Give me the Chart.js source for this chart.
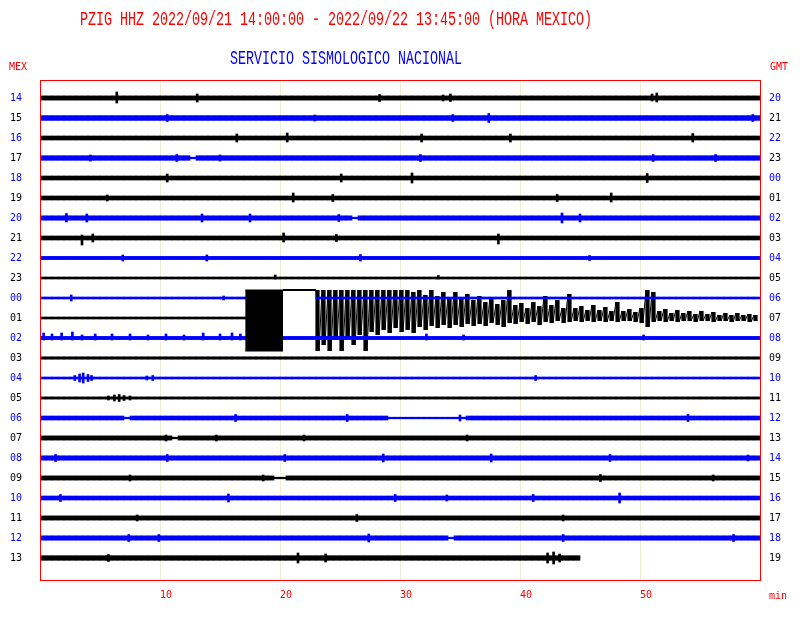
<!DOCTYPE html>
<html>
<head>
<meta charset="utf-8">
<script src="https://cdn.jsdelivr.net/npm/chart.js@4.4.0/dist/chart.umd.min.js"></script>
<style>
  html, body { margin: 0; background: #fff; }
</style>
</head>
<body>
<canvas id="heli" width="800" height="620"></canvas>
<script>
const titleText = 'PZIG HHZ 2022/09/21 14:00:00 - 2022/09/22 13:45:00 (HORA MEXICO)';
const agencyText = 'SERVICIO SISMOLOGICO NACIONAL';

// one trace per hour, local time on the left, GMT on the right
const mexHours = ['14','15','16','17','18','19','20','21','22','23','00','01',
                  '02','03','04','05','06','07','08','09','10','11','12','13'];
const gmtHours = ['20','21','22','23','00','01','02','03','04','05','06','07',
                  '08','09','10','11','12','13','14','15','16','17','18','19'];
const minuteTicks = [10, 20, 30, 40, 50];

// background noise half-amplitude per trace (counts)
const noiseLevel = [2.1, 2.4, 2.0, 2.3, 2.0, 2.0, 2.2, 2.0, 1.6, 1.0, 1.0, 1.0,
                    1.6, 1.2, 1.0, 1.1, 2.0, 2.1, 2.2, 2.1, 2.0, 2.1, 2.2, 2.3];
const quietLevel = 0.8;

// [trace, from min, to min] where the trace is only a flat line
const quietSpans = [[3, 12.5, 13], [6, 26, 26.5], [16, 7, 7.5], [16, 29, 35.5],
                    [17, 11, 11.5], [19, 19.5, 20.5], [22, 34, 34.5]];
// [trace, from min, to min] with no trace drawn
const deadSpans = [[10, 20, 23], [11, 17.5, 60], [23, 45, 60]];

// local bursts: [trace, minute, up, down] (counts)
const spikes = [
  [0,6.4,6,5],[0,13.1,4,4],[0,28.3,3.5,3.5],[0,33.6,3,3],[0,34.2,4,3.5],[0,51.0,4,3],[0,51.4,5,4],
  [1,10.6,3.5,3.5],[1,22.9,3,3],[1,34.4,3.5,3.5],[1,37.4,4.5,4.5],[1,59.4,3.5,3.5],
  [2,16.4,4,4],[2,20.6,5,4],[2,31.8,4,4],[2,39.2,4,4],[2,54.4,4.5,4],
  [3,4.2,3,3],[3,11.4,3.5,3.5],[3,15,3,3],[3,31.7,3.5,3.5],[3,51.1,3.5,3.5],[3,56.3,3.5,3.5],
  [4,10.6,4,4],[4,25.1,4,4],[4,31,5,5],[4,50.6,4.5,4.5],
  [5,5.6,3,3],[5,21.1,5,4],[5,24.4,3.5,3.5],[5,43.1,3.5,3.5],[5,47.6,5,4],
  [6,2.2,4.5,4],[6,3.9,4,4],[6,13.5,4,4],[6,17.5,4,4],[6,24.9,3.5,3.5],[6,43.5,5,5],[6,45,4,4],
  [7,3.5,3,7],[7,4.4,4,4],[7,20.3,5,4],[7,24.7,3.5,3.5],[7,38.2,4,6],
  [8,6.9,3,3],[8,13.9,3,3],[8,26.7,3.5,3],[8,45.8,2.5,2.5],
  [9,19.6,3,1],[9,33.2,2.5,1],
  [10,2.6,3,3],[10,15.3,2,2],
  [12,0.3,5,2],[12,1.0,4,2],[12,1.8,5,2],[12,2.7,6,2],[12,3.5,3,2],[12,4.6,4,2],[12,6,4,2],
  [12,7.5,4,2],[12,9,3,2],[12,10.5,4,2],[12,12,3,2],[12,13.6,5,2],[12,15,4,2],[12,16,5,2],
  [12,16.7,4,2],[12,32.2,4,2],[12,35.3,3,2],[12,50.3,3,2],
  [14,2.9,2.5,2.5],[14,3.3,4,4],[14,3.6,5,5],[14,4.0,3.5,3.5],[14,4.3,2.5,2.5],[14,8.9,2,2],
  [14,9.4,2.5,2.5],[14,41.3,2.5,2.5],
  [15,5.7,2,2],[15,6.2,3,3],[15,6.6,3.5,3.5],[15,7.0,2.5,2.5],[15,7.5,2,2],
  [16,16.3,3.5,3.5],[16,25.6,3.5,3.5],[16,35.0,3,3],[16,54,3.5,3.5],
  [17,10.5,3,3],[17,14.7,3,3],[17,22,3,3],[17,35.6,3,3],
  [18,1.3,3.5,3.5],[18,10.6,3.5,3.5],[18,20.4,3.5,3.5],[18,28.6,4,4],[18,37.6,4,4],[18,47.5,3.5,3.5],[18,59,3,3],
  [19,7.5,3,3],[19,18.6,3,3],[19,46.7,3.5,3.5],[19,56.1,3,3],
  [20,1.7,3.5,3.5],[20,15.7,4,4],[20,29.6,3.5,3.5],[20,33.9,3,3],[20,41.1,3.5,3.5],[20,48.3,5,5],
  [21,8.1,3,3],[21,26.4,3.5,3.5],[21,43.6,3,3],
  [22,7.4,3.5,3.5],[22,9.9,3.5,3.5],[22,27.4,4,4],[22,43.6,3.5,3.5],[22,57.8,3.5,3.5],
  [23,5.7,3.5,3.5],[23,21.5,5,5],[23,23.8,4,4],[23,42.3,5,5],[23,42.8,6,6],[23,43.3,4,4]
];

// the big event on trace '01': clipped from start to end, pinned high until coda
const quakeTrace = 11;
const quakeTimes = [17.1, 20.25, 23.0];   // clip start, clip end, coda start
const clipHigh = 28;
const clipLow = -33;
// coda extremes every half minute from 23.0 (peaks) and 23.25 (troughs), counts
const codaTop = [28,28,28,28,28,28,28,28,28,28,28,28,28,28,28,28,
  26,28,23,28,22,26,20,26,19,24,18,22,16,21,14,18,28,13,15,10,16,12,22,13,
  18,10,24,10,12,8,13,8,11,7,16,7,9,6,10,28,26,7,9,5,8,5,7,4,7,4,6,3,5,3,5,3,4,3];
const codaBottom = [-33,-27,-33,-22,-33,-20,-27,-17,-33,-14,-17,-12,-15,-10,-14,-12,
  -15,-9,-12,-8,-10,-7,-10,-7,-9,-6,-8,-6,-8,-5,-7,-9,-5,-6,-4,-6,-4,-7,-4,-5,
  -3,-5,-4,-3,-4,-3,-4,-3,-4,-3,-4,-3,-3,-4,-5,-9,-4,-3,-4,-3,-4,-3,-3,-4,
  -3,-3,-4,-3,-3,-4,-3,-3,-4,-3];

const GAIN = 20;      // counts per trace spacing
const STEP = 0.5;     // minutes per band segment
const RED = '#ff0000', BLUE = '#0000ff', BLACK = '#000000';
const blueTrace = [false,true,false,true,false,false,true,false,true,false,true,false,
                   true,false,true,false,true,false,true,false,true,false,true,false];
const hourColor = h => (parseInt(h, 10) % 2 === 0 ? BLUE : BLACK);

const inSpan = (spans, row, t) => spans.some(([r, a, b]) => r === row && t > a && t < b);

function noiseBand(blue) {
  const out = [];
  mexHours.forEach((h, row) => {
    if (blueTrace[row] !== blue) return;
    for (let t = STEP / 2; t < 60; t += STEP) {
      if (inSpan(deadSpans, row, t)) continue;
      const a = inSpan(quietSpans, row, t) ? quietLevel : noiseLevel[row];
      out.push({ x: t, y: [row - a / GAIN, row + a / GAIN] });
    }
  });
  return out;
}

function spikeBars(blue) {
  return spikes
    .filter(s => blueTrace[s[0]] === blue)
    .map(([row, t, up, dn]) => ({ x: t, y: [row - up / GAIN, row + dn / GAIN] }));
}

// coda: swing line through the extremes plus a bar per swing
const codaPoints = [];
const codaSwings = [];
codaTop.forEach((v, i) => {
  const t = quakeTimes[2] + i * STEP;
  codaPoints.push({ x: t, y: quakeTrace - v / GAIN });
  codaPoints.push({ x: t + STEP / 2, y: quakeTrace - codaBottom[i] / GAIN });
  codaSwings.push({ x: t + STEP / 4, y: [quakeTrace - v / GAIN, quakeTrace - codaBottom[i] / GAIN] });
});

const hiY = quakeTrace - clipHigh / GAIN;
const loY = quakeTrace - clipLow / GAIN;

const bandOpts = { grouped: false, barPercentage: 1, categoryPercentage: 1, borderWidth: 0, xAxisID: 'x' };
const spikeOpts = { grouped: false, barThickness: 2, borderWidth: 0, xAxisID: 'xs' };
const lineOpts = { type: 'line', pointRadius: 0, tension: 0, borderJoinStyle: 'bevel', xAxisID: 'x' };

const tickFont = { family: 'DejaVu Sans Mono', size: 10 };

const seisText = {
  id: 'seisText',
  afterDatasetsDraw(chart) {
    const { ctx, chartArea: a } = chart;
    ctx.save();
    ctx.strokeStyle = RED;
    ctx.lineWidth = 1;
    ctx.strokeRect(a.left + 0.5, a.top + 0.5, a.right - a.left, a.bottom - a.top);
    ctx.restore();
  },
  afterDraw(chart) {
    const { ctx } = chart;
    const stretched = (text, x, y, color) => {
      ctx.save();
      ctx.font = '13.33px "Liberation Mono"';
      ctx.fillStyle = color;
      ctx.textBaseline = 'alphabetic';
      ctx.translate(x, y);
      ctx.scale(1, 1.45);
      ctx.fillText(text, 0, 0);
      ctx.restore();
    };
    stretched(titleText, 80, 25, RED);
    stretched(agencyText, 230, 64, BLUE);
    ctx.save();
    ctx.font = '10px "DejaVu Sans Mono"';
    ctx.fillStyle = RED;
    ctx.textBaseline = 'alphabetic';
    ctx.fillText('MEX', 9, 70);
    ctx.fillText('GMT', 770, 70);
    ctx.fillText('min', 769, 599);
    ctx.restore();
  }
};

new Chart(document.getElementById('heli'), {
  type: 'bar',
  data: {
    datasets: [
      { ...lineOpts, data: [{ x: quakeTimes[0], y: hiY }, { x: quakeTimes[1], y: hiY }],
        fill: '+1', backgroundColor: BLACK, borderColor: BLACK, borderWidth: 1, order: 0 },
      { ...lineOpts, data: [{ x: quakeTimes[0], y: loY }, { x: quakeTimes[1], y: loY }],
        borderColor: BLACK, borderWidth: 1, fill: false, order: 0 },
      { ...lineOpts, data: [{ x: quakeTimes[1], y: hiY }, { x: quakeTimes[2], y: hiY }],
        borderColor: BLACK, borderWidth: 2, fill: false, order: 0 },
      { ...bandOpts, data: noiseBand(true), backgroundColor: BLUE, order: 2 },
      { ...spikeOpts, data: spikeBars(true), backgroundColor: BLUE, order: 2 },
      { ...lineOpts, data: codaPoints, borderColor: BLACK, borderWidth: 1, fill: false, order: 3 },
      { grouped: false, barPercentage: 0.7, categoryPercentage: 1, borderWidth: 0, xAxisID: 'xc',
        data: codaSwings, backgroundColor: BLACK, order: 3 },
      { ...bandOpts, data: noiseBand(false), backgroundColor: BLACK, order: 4 },
      { ...spikeOpts, data: spikeBars(false), backgroundColor: BLACK, order: 4 }
    ]
  },
  options: {
    responsive: false,
    animation: false,
    events: [],
    layout: { padding: { top: 80, left: 0, right: 0, bottom: 0 } },
    plugins: { legend: { display: false }, tooltip: { enabled: false } },
    scales: {
      x: {
        type: 'linear', min: 0, max: 60, offset: false, position: 'bottom',
        grid: { color: '#efefcf', drawTicks: false, offset: false },
        border: { display: false },
        ticks: { color: RED, font: tickFont, align: 'start', padding: 9, callback: v => String(v) },
        afterBuildTicks: s => { s.ticks = minuteTicks.map(v => ({ value: v })); },
        afterFit: s => { s.height = 40; }
      },
      xs: { type: 'linear', min: 0, max: 60, offset: false, display: false },
      xc: { type: 'linear', min: 0, max: 60, offset: false, display: false },
      y: {
        type: 'linear', reverse: true, min: -0.9, max: 24.1, bounds: 'data', position: 'left',
        grid: { display: false, drawTicks: false },
        border: { display: false },
        ticks: { font: tickFont, padding: 18, color: c => hourColor(mexHours[c.index]),
                 callback: v => mexHours[v] },
        afterBuildTicks: s => { s.ticks = mexHours.map((_, i) => ({ value: i })); },
        afterFit: s => { s.width = 40; }
      },
      y2: {
        type: 'linear', reverse: true, min: -0.9, max: 24.1, bounds: 'data', position: 'right',
        grid: { display: false, drawTicks: false },
        border: { display: false },
        ticks: { font: tickFont, padding: 9, color: c => hourColor(gmtHours[c.index]),
                 callback: v => gmtHours[v] },
        afterBuildTicks: s => { s.ticks = gmtHours.map((_, i) => ({ value: i })); },
        afterFit: s => { s.width = 40; }
      }
    }
  },
  plugins: [seisText]
});
</script>
</body>
</html>
